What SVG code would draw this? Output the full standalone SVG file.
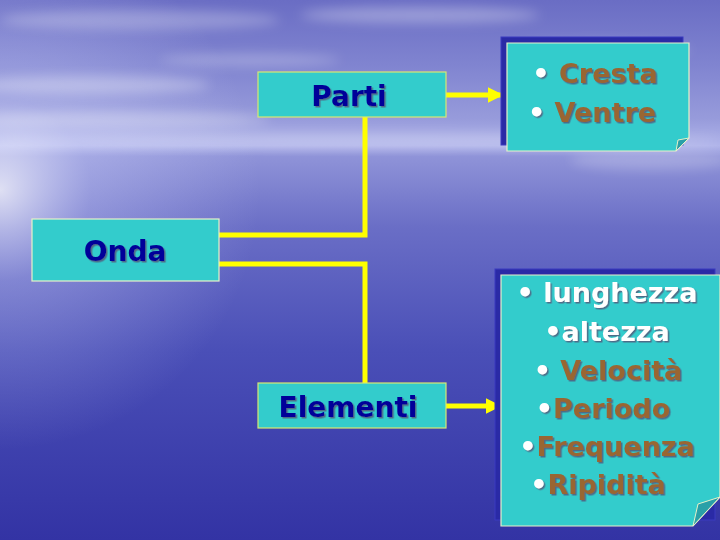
<svg xmlns="http://www.w3.org/2000/svg" width="720" height="540" viewBox="0 0 720 540">
<defs>
<linearGradient id="bg" x1="0" y1="0" x2="0" y2="1">
<stop offset="0" stop-color="#6a6dc4"/>
<stop offset="0.12" stop-color="#8084d0"/>
<stop offset="0.22" stop-color="#979bdb"/>
<stop offset="0.27" stop-color="#b0b4ea"/>
<stop offset="0.29" stop-color="#8f93d8"/>
<stop offset="0.42" stop-color="#6a6ec6"/>
<stop offset="0.65" stop-color="#4a4fb7"/>
<stop offset="1" stop-color="#3333a4"/>
</linearGradient>
<radialGradient id="glow" cx="0" cy="190" r="260" gradientUnits="userSpaceOnUse">
<stop offset="0" stop-color="#ffffff" stop-opacity="0.75"/>
<stop offset="0.35" stop-color="#d8dcff" stop-opacity="0.3"/>
<stop offset="1" stop-color="#d8dcff" stop-opacity="0"/>
</radialGradient>
<filter id="blur" x="-20%" y="-50%" width="140%" height="200%"><feGaussianBlur stdDeviation="6"/></filter>
<filter id="sh" x="-10%" y="-20%" width="130%" height="150%"><feDropShadow dx="1.5" dy="1.5" stdDeviation="0.3" flood-color="#555577" flood-opacity="0.8"/></filter>
<marker id="arr" viewBox="0 0 10 10" refX="9" refY="5" markerWidth="3.2" markerHeight="3.2" orient="auto" markerUnits="strokeWidth">
<path d="M0,0 L10,5 L0,10 z" fill="#ffff00"/>
</marker>
<style>
.box{fill:#33cccc;stroke:#e8f0c8;stroke-width:1.2}
.ybox{fill:#33cccc;stroke:#d8e870;stroke-width:1.2}
.shadow{fill:#2a2aa6;stroke:#3a3ac0;stroke-width:1}
.lbl{font-family:"DejaVu Sans",Verdana,sans-serif;font-weight:bold;font-size:28px;fill:#000099;text-anchor:middle}
.lst{font-family:"DejaVu Sans",Verdana,sans-serif;font-weight:bold;font-size:27px;fill:#996633;text-anchor:middle}
.w{fill:#ffffff}
.conn{fill:none;stroke:#ffff00;stroke-width:5}
</style>
</defs>
<rect width="720" height="540" fill="url(#bg)"/>
<rect width="720" height="540" fill="url(#glow)"/>
<g filter="url(#blur)" fill="#ffffff">
<ellipse cx="140" cy="20" rx="140" ry="10" opacity="0.25"/>
<ellipse cx="420" cy="15" rx="120" ry="8" opacity="0.3"/>
<ellipse cx="90" cy="85" rx="120" ry="9" opacity="0.3"/>
<ellipse cx="250" cy="60" rx="90" ry="6" opacity="0.25"/>
<ellipse cx="120" cy="120" rx="150" ry="8" opacity="0.3"/>
<ellipse cx="600" cy="50" rx="90" ry="8" opacity="0.25"/>
<ellipse cx="360" cy="140" rx="360" ry="6" opacity="0.25"/>
<ellipse cx="650" cy="160" rx="80" ry="10" opacity="0.2"/>
</g>
<g id="connectors">
<polyline class="conn" points="219,235 365,235 365,117"/>
<polyline class="conn" points="219,264 365,264 365,383"/>
<line class="conn" x1="446" y1="95" x2="502" y2="95" marker-end="url(#arr)"/>
<line class="conn" x1="446" y1="406" x2="500" y2="406" marker-end="url(#arr)"/>
</g>
<g id="onda">
<rect class="box" x="32" y="219" width="187" height="62"/>
<text class="lbl" x="125" y="261" filter="url(#sh)">Onda</text>
</g>
<g id="parti">
<rect class="ybox" x="258" y="72" width="188" height="45"/>
<text class="lbl" x="349" y="106" filter="url(#sh)">Parti</text>
</g>
<g id="elementi">
<rect class="ybox" x="258" y="383" width="188" height="45"/>
<text class="lbl" x="348" y="417" filter="url(#sh)">Elementi</text>
</g>
<g id="parti-list">
<rect class="shadow" x="501" y="37" width="182" height="108"/>
<path class="box" d="M507,43 H689 V138 L676,151 H507 Z"/>
<path d="M689,138 L676,151 L678,140 Z" fill="#2aa0a8" stroke="#e8f0c8" stroke-width="1"/>
<text class="lst" x="595" y="83" filter="url(#sh)"><tspan class="w">•</tspan> Cresta</text>
<text class="lst" x="592" y="122" filter="url(#sh)"><tspan class="w">•</tspan> Ventre</text>
</g>
<g id="elementi-list">
<rect class="shadow" x="495" y="269" width="220" height="251"/>
<path class="box" d="M501,275 H720 V497 L693,526 H501 Z"/>
<path d="M720,497 L693,526 L698,504 Z" fill="#2aa0a8" stroke="#e8f0c8" stroke-width="1"/>
<text class="lst w" x="607" y="302" filter="url(#sh)">• lunghezza</text>
<text class="lst w" x="607" y="341" filter="url(#sh)">•altezza</text>
<text class="lst" x="608" y="380" filter="url(#sh)"><tspan class="w">•</tspan> Velocità</text>
<text class="lst" x="603" y="418" filter="url(#sh)"><tspan class="w">•</tspan>Periodo</text>
<text class="lst" x="607" y="456" filter="url(#sh)"><tspan class="w">•</tspan>Frequenza</text>
<text class="lst" x="598" y="494" filter="url(#sh)"><tspan class="w">•</tspan>Ripidità</text>
</g>
</svg>
